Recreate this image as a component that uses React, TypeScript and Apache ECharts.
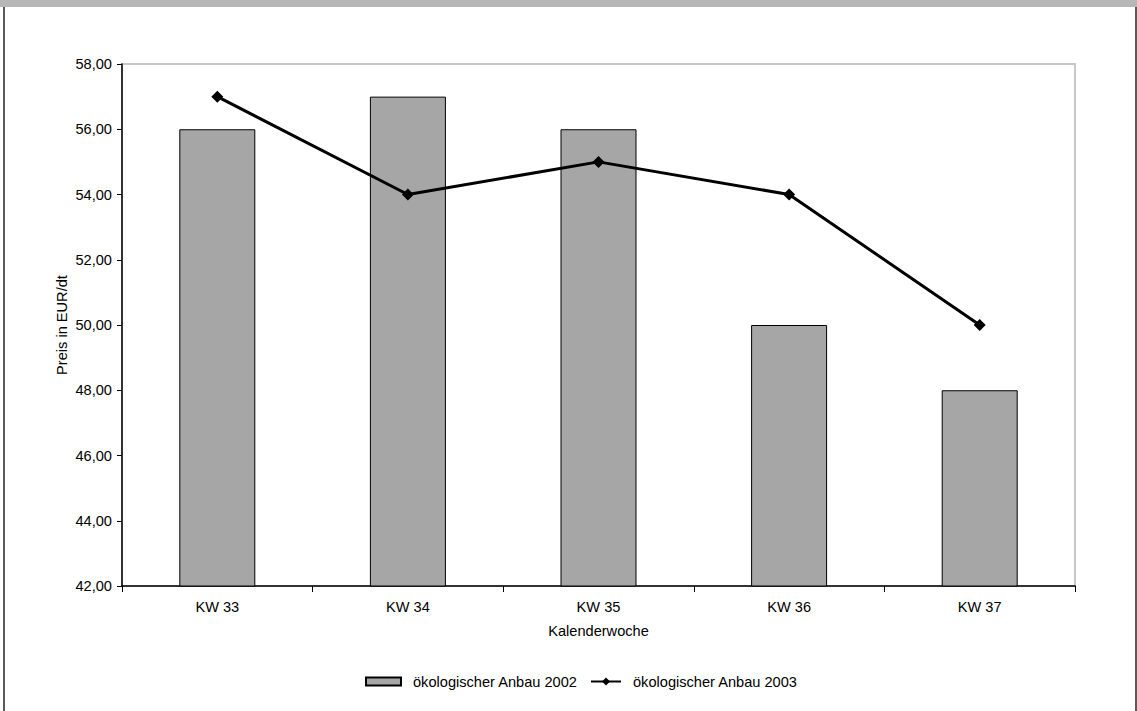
import React, { useEffect, useRef } from "react";
import * as echarts from "echarts";

const categories = ["KW 33", "KW 34", "KW 35", "KW 36", "KW 37"];
const bars2002 = [56, 57, 56, 50, 48];
const line2003 = [57, 54, 55, 54, 50];
const yTicks = { min: 42, max: 58, interval: 2 };
const seriesNames = ["ökologischer Anbau 2002", "ökologischer Anbau 2003"];

export default function App() {
  const ref = useRef<HTMLDivElement>(null);
  useEffect(() => {
    if (!ref.current) return;
    const chart = echarts.init(ref.current, null, { renderer: "svg" });
    const font = "Liberation Sans, Arial, sans-serif";
    const fs = 14.6;
    chart.setOption({
      animation: false,
      backgroundColor: "#ffffff",
      textStyle: { fontFamily: font },
      graphic: [
        { type: "rect", shape: { x: 0, y: 0, width: 1137, height: 7 }, style: { fill: "#b7b7b7" }, z: 100 },
        { type: "rect", shape: { x: 3, y: 7, width: 2, height: 704 }, style: { fill: "#5a5a5a" } },
        { type: "rect", shape: { x: 1135, y: 7, width: 2, height: 704 }, style: { fill: "#5a5a5a" } },
      ],
      grid: {
        left: 122,
        top: 64,
        right: 62,
        bottom: 125,
        show: true,
        borderColor: "#c8c8c8",
        borderWidth: 2,
        backgroundColor: "#ffffff",
      },
      legend: [
        {
          left: 360,
          top: 669,
          itemWidth: 35,
          itemHeight: 8,
          textStyle: { fontSize: fs, color: "#000", fontFamily: font, padding: [0, 0, 0, 7] },
          data: [{ name: seriesNames[0], icon: "rect" }],
        },
        {
          left: 585,
          top: 669,
          itemWidth: 30,
          itemHeight: 10,
          textStyle: { fontSize: fs, color: "#000", fontFamily: font, padding: [0, 0, 0, 7] },
          data: [{ name: seriesNames[1] }],
        },
      ],
      xAxis: {
        type: "category",
        data: categories,
        boundaryGap: true,
        name: "Kalenderwoche",
        nameLocation: "middle",
        nameGap: 37,
        nameMoveOverlap: false,
        nameTextStyle: { fontSize: fs, color: "#000" },
        axisLine: { lineStyle: { color: "#000", width: 1.5 } },
        axisTick: { show: true, alignWithLabel: false, length: 6, lineStyle: { color: "#000" } },
        axisLabel: { fontSize: fs, color: "#000", margin: 13 },
        splitLine: { show: false },
      },
      yAxis: {
        type: "value",
        min: yTicks.min,
        max: yTicks.max,
        interval: yTicks.interval,
        name: "Preis in EUR/dt",
        nameLocation: "middle",
        nameGap: 53,
        nameMoveOverlap: false,
        nameTextStyle: { fontSize: fs, color: "#000" },
        axisLine: { show: true, lineStyle: { color: "#000", width: 1.5 } },
        axisTick: { show: true, length: 5, lineStyle: { color: "#000" } },
        axisLabel: {
          fontSize: fs,
          color: "#000",
          margin: 10,
          formatter: (v: number) => v.toFixed(2).replace(".", ","),
        },
        splitLine: { show: false },
      },
      series: [
        {
          name: seriesNames[0],
          type: "bar",
          data: bars2002,
          barWidth: 76,
          itemStyle: { color: "#a6a6a6", borderColor: "#000", borderWidth: 1 },
        },
        {
          name: seriesNames[1],
          type: "line",
          data: line2003,
          symbol: "diamond",
          symbolSize: 12,
          lineStyle: { color: "#000", width: 3 },
          itemStyle: { color: "#000" },
          z: 5,
        },
      ],
    });
    return () => chart.dispose();
  }, []);
  return (
    <div
      ref={ref}
      style={{ position: "fixed", left: 0, top: 0, width: 1137, height: 711 }}
    />
  );
}
